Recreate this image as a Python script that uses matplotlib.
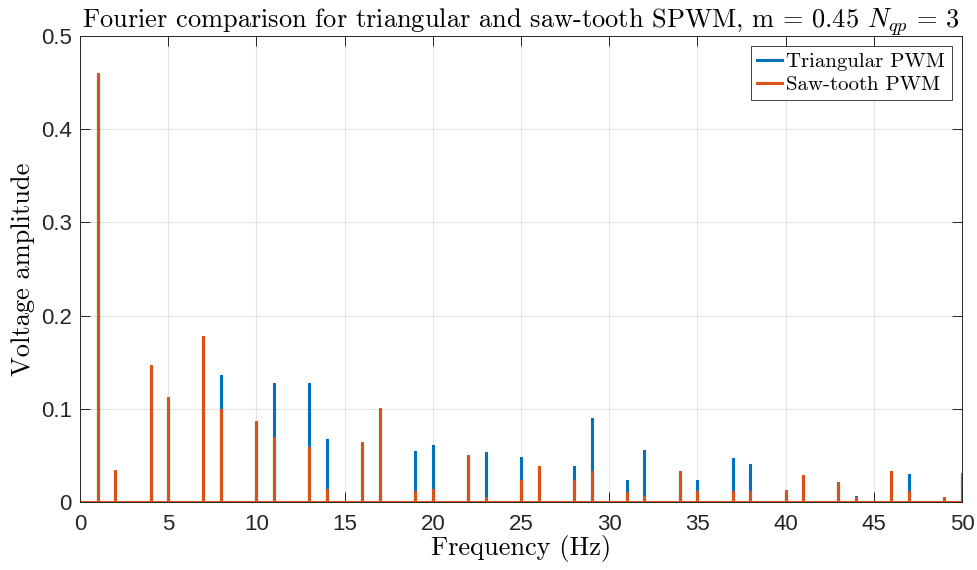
import numpy as np
import matplotlib.pyplot as plt

plt.rcParams['mathtext.fontset'] = 'cm'

# harmonic orders (Hz) and amplitudes
freqs = [1, 2, 4, 5, 7, 8, 10, 11, 13, 14, 16, 17, 19, 20, 22, 23, 25, 26,
         28, 29, 31, 32, 34, 35, 37, 38, 40, 41, 43, 44, 46, 47, 49, 50]
tri_amp = [0.459, 0.033, 0.146, 0.112, 0.177, 0.135, 0.086, 0.127, 0.127, 0.067,
           0.063, 0.100, 0.054, 0.060, 0.049, 0.053, 0.047, 0.038,
           0.038, 0.089, 0.022, 0.055, 0.032, 0.022, 0.046, 0.040,
           0.012, 0.028, 0.020, 0.005, 0.032, 0.029, 0.004, 0.030]
saw_amp = [0.459, 0.033, 0.146, 0.112, 0.177, 0.099, 0.086, 0.069, 0.058, 0.013,
           0.063, 0.100, 0.011, 0.013, 0.049, 0.004, 0.022, 0.038,
           0.022, 0.032, 0.010, 0.005, 0.032, 0.011, 0.011, 0.011,
           0.012, 0.028, 0.020, 0.004, 0.032, 0.011, 0.004, 0.030]


def spectrum_line(f, a, fmax=50):
    # build a spike trace: baseline at zero with vertical lines at each harmonic
    xs, ys = [0], [0]
    for fi, ai in zip(f, a):
        xs += [fi, fi, fi]
        ys += [0, ai, 0]
    xs.append(fmax)
    ys.append(0)
    return np.array(xs), np.array(ys)


fig = plt.figure(figsize=(9.77, 5.70), dpi=100)
ax = fig.add_axes([0.0819, 0.1193, 0.9027, 0.8175])

x1, y1 = spectrum_line(freqs, tri_amp)
x2, y2 = spectrum_line(freqs, saw_amp)
ax.plot(x1, y1, color='#0072BD', lw=2.2, label='Triangular PWM')
ax.plot(x2, y2, color='#D95319', lw=2.2, label='Saw-tooth PWM')

ax.set_xlim(0, 50)
ax.set_ylim(0, 0.5)
ax.set_xticks(np.arange(0, 51, 5))
ax.set_yticks(np.arange(0, 0.51, 0.1))
ax.set_yticklabels(['0', '0.1', '0.2', '0.3', '0.4', '0.5'])
ax.grid(True, color='#e3e3e3', lw=0.8)
ax.set_axisbelow(True)
ax.tick_params(direction='in', length=7, width=0.7, colors='#262626',
               labelsize=16, top=True, right=True)
ax.tick_params(axis='x', pad=9)
ax.tick_params(axis='y', pad=6)
for lab in ax.get_xticklabels() + ax.get_yticklabels():
    lab.set_family('Liberation Sans')
for s in ax.spines.values():
    s.set_color('#262626')
    s.set_linewidth(0.7)

ax.set_title(r'Fourier comparison for triangular and saw-tooth SPWM, m = 0.45 $N_{qp}$ = 3',
             fontfamily='cmr10', fontsize=19, pad=6)
ax.set_xlabel('Frequency (Hz)', fontfamily='cmr10', fontsize=19, labelpad=0)
ax.set_ylabel('Voltage amplitude', fontfamily='cmr10', fontsize=19, labelpad=4)

leg = ax.legend(loc='upper right', prop={'family': 'cmr10', 'size': 15},
                fancybox=False, edgecolor='#262626', framealpha=1,
                handlelength=1.2, handletextpad=0.2, borderpad=0.3,
                labelspacing=0.2, borderaxespad=0.5)
leg.get_frame().set_linewidth(0.6)

plt.savefig('out.png', dpi=100)
plt.close()
